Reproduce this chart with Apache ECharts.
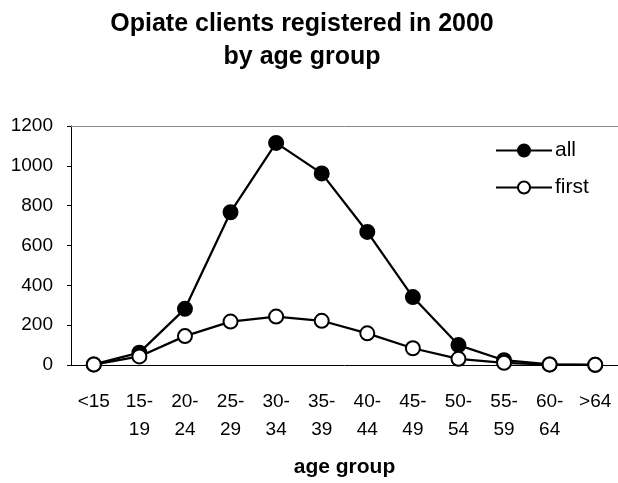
<!DOCTYPE html>
<html>
<head>
<meta charset="utf-8">
<script src="https://cdn.jsdelivr.net/npm/echarts@6/dist/echarts.min.js"></script>
<style>html,body{margin:0;padding:0;background:#fff;}#c{width:618px;height:483px;}</style>
</head>
<body>
<div id="c"></div>
<script>
var categories = ['<15', '15-\n19', '20-\n24', '25-\n29', '30-\n34', '35-\n39', '40-\n44', '45-\n49', '50-\n54', '55-\n59', '60-\n64', '>64'];
var allValues = [3, 62, 282, 767, 1115, 962, 668, 341, 100, 24, 3, 1];
var firstValues = [2, 43, 145, 218, 243, 222, 159, 84, 31, 11, 2, 1];
var yTicks = [0, 200, 400, 600, 800, 1000, 1200];

var FONT = '"Liberation Sans", Arial, sans-serif';
var chart = echarts.init(document.getElementById('c'), null, {renderer: 'canvas'});
chart.setOption({
  animation: false,
  backgroundColor: '#fff',
  title: {
    text: 'Opiate clients registered in 2000\nby age group',
    left: 302, top: 8, textAlign: 'center', padding: 0,
    textStyle: {fontFamily: FONT, fontWeight: 'bold', fontSize: 25, lineHeight: 32.5, color: '#000'}
  },
  legend: {
    left: 495, top: 140, orient: 'vertical', itemGap: 16, padding: 0,
    itemWidth: 56, itemHeight: 15,
    textStyle: {fontFamily: FONT, fontSize: 21, color: '#000', padding: [0, 0, 0, -2]},
    data: ['all', 'first']
  },
  grid: {left: 71, right: -4, top: 126, bottom: 115, containLabel: false},
  xAxis: {
    type: 'category', data: categories, boundaryGap: true,
    name: 'age group', nameLocation: 'middle', nameGap: 92,
    nameTextStyle: {fontFamily: FONT, fontWeight: 'bold', fontSize: 21, color: '#000'},
    axisLine: {lineStyle: {color: '#000', width: 1}},
    axisTick: {length: 5, lineStyle: {color: '#000'}},
    axisLabel: {fontFamily: FONT, fontSize: 19, color: '#000', margin: 23, lineHeight: 28, interval: 0}
  },
  yAxis: {
    type: 'value', min: 0, max: 1200, interval: 200,
    axisLine: {show: true, lineStyle: {color: '#000', width: 1}},
    axisTick: {show: true, length: 4, lineStyle: {color: '#000'}},
    splitLine: {show: false},
    axisLabel: {fontFamily: FONT, fontSize: 19, color: '#000', margin: 18,
      formatter: function (v) { return yTicks.indexOf(v) >= 0 ? String(v) : ''; }}
  },
  series: [
    {
      name: 'all', type: 'line', data: allValues,
      symbol: 'circle', symbolSize: 14,
      lineStyle: {color: '#000', width: 2.25},
      itemStyle: {color: '#000', borderColor: '#000', borderWidth: 2},
      markLine: {silent: true, symbol: 'none', label: {show: false},
        lineStyle: {color: '#888', type: 'solid', width: 1},
        data: [{yAxis: 1200}]},
      z: 2
    },
    {
      name: 'first', type: 'line', data: firstValues,
      symbol: 'circle', symbolSize: 14,
      lineStyle: {color: '#000', width: 2.25},
      itemStyle: {color: '#fff', borderColor: '#000', borderWidth: 2},
      z: 3
    }
  ]
});
</script>
</body>
</html>
